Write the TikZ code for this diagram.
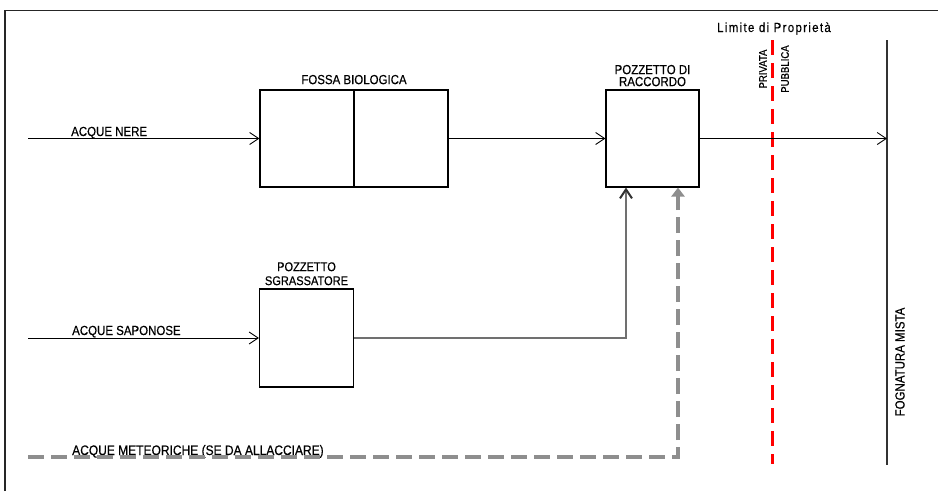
\documentclass[tikz,border=0pt]{standalone}
\usepackage{fontspec}
\setmainfont{Liberation Sans}[FakeStretch=0.87, FakeBold=0.4]
\usepackage{tikz}
\usetikzlibrary{positioning, arrows.meta}
\definecolor{grigio}{RGB}{112,112,112}
\definecolor{grigiochiaro}{RGB}{142,142,142}

\begin{document}
\begin{tikzpicture}[x=1pt, y=-1pt, line join=miter,
    tank/.style={draw, rectangle, line width=1.1pt, inner sep=0pt},
    lbl/.style={inner sep=0pt, font=\fontsize{13.2}{12}\selectfont},
    flow/.style={line width=0.9pt, -{Straight Barb[length=9pt, width=12pt]}},
    saponi/.style={draw=grigio, line width=2pt, -{Straight Barb[length=9pt, width=12pt, black!80]}},
    pioggia/.style={draw=grigiochiaro, line width=4pt, dash pattern=on 16pt off 7pt, -{Triangle[length=9pt, width=13pt]}},
    limite/.style={draw=red, line width=3pt, dash pattern=on 15pt off 8pt}]
    \useasboundingbox (0,0) rectangle (938,491);

    % Frame
    \draw[line width=1.3pt, black!85] (5,491) -- (5,10.5) -- (938,10.5);

    % Nodes
    \node[tank, minimum width=188pt, minimum height=97pt] (fossa) at (354,138.5) {};
    \node[tank, minimum width=93pt, minimum height=97pt] (raccordo) at (652.5,138.5) {};
    \node[tank, minimum width=94pt, minimum height=98pt] (sgrassatore) at (306.5,338) {};
    \draw[line width=1.1pt] (fossa.north) -- (fossa.south);

    \node[lbl, above=5pt of fossa] (fossalbl) {FOSSA BIOLOGICA};
    \node[lbl, above=3pt of raccordo, align=center] (raccordolbl) {POZZETTO DI\\RACCORDO};
    \node[lbl, above=3pt of sgrassatore, align=center, font=\fontsize{12.7}{14}\selectfont] (sgrlbl) {POZZETTO\\SGRASSATORE};

    \coordinate (nere) at (28,138.5);
    \coordinate (saponose) at (28,338);
    \coordinate (meteo) at (28,457);
    \coordinate (fogtop) at (887,40);
    \coordinate (fogbot) at (887,465);
    \coordinate (limtop) at (772.5,40);
    \coordinate (limbot) at (772.5,464);
    \coordinate (insapo) at ([xshift=-26.5pt]raccordo.south);
    \coordinate (inmeteo) at ([xshift=25.5pt]raccordo.south);

    \node[lbl, anchor=base west] (nerelbl) at (71,136) {ACQUE NERE};
    \node[lbl, anchor=base west] (saplbl) at (72,335) {ACQUE SAPONOSE};
    \node[lbl, anchor=base west, font=\fontsize{13.8}{12}\selectfont] (meteolbl) at (72,455) {ACQUE METEORICHE (SE DA ALLACCIARE)};
    \node[lbl, anchor=base, font=\fontsize{13.2}{12}\addfontfeature{LetterSpace=10}] (limlbl) at (774,32) {Limite di Proprietà};
    \node[lbl, rotate=90, font=\fontsize{11}{10}\selectfont] (privlbl) at (763,69) {PRIVATA};
    \node[lbl, rotate=90, font=\fontsize{11}{10}\selectfont] (pubblbl) at (785,69) {PUBBLICA};
    \node[lbl, rotate=90] (foglbl) at (900,362) {FOGNATURA MISTA};

    % Connections
    \draw[limite] (limtop) -- (limbot);
    \draw[line width=1.2pt, black!80] (fogtop) -- (fogbot);
    \draw[flow] (nere) -- (fossa);
    \draw[flow] (fossa) -- (raccordo);
    \draw[flow] (raccordo) -- (raccordo -| fogtop);
    \draw[flow] (saponose) -- (sgrassatore);
    \draw[saponi] (sgrassatore) -| (insapo);
    \draw[pioggia] (meteo) -| (inmeteo);
\end{tikzpicture}
\end{document}
